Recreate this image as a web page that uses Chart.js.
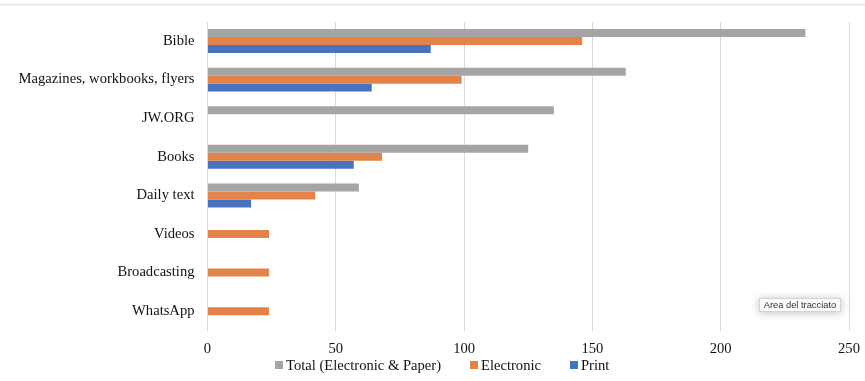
<!DOCTYPE html>
<html>
<head>
<meta charset="utf-8">
<script src="https://cdn.jsdelivr.net/npm/chart.js@4.4.1/dist/chart.umd.min.js"></script>
<style>
  html, body { margin: 0; padding: 0; background: #fff; }
  #wrap { position: relative; width: 865px; height: 381px; overflow: hidden; }
  #chart { display: block; }
  #legend {
    position: absolute; left: 275px; top: 356px;
    display: flex; align-items: center; white-space: nowrap;
    font-family: "Liberation Serif", "Times New Roman", serif;
    font-size: 14.6px; line-height: 18px; color: #111;
  }
  #legend .item { display: flex; align-items: center; margin-right: 29px; }
  #legend .swatch { width: 8px; height: 8px; margin-right: 3px; }
  #hint {
    position: absolute; left: 759px; top: 298px; width: 82px; height: 14px;
    box-sizing: border-box; border: 1px solid #d4d4d4; background: #fbfbfb;
    box-shadow: 0 1px 8px rgba(0,0,0,0.25);
    font-family: "Liberation Sans", Arial, sans-serif; font-size: 9.3px;
    line-height: 12px; color: #333; text-align: center;
  }
</style>
</head>
<body>
<div id="wrap">
  <canvas id="chart" width="865" height="381"></canvas>
  <div id="legend"></div>
  <div id="hint">Area del tracciato</div>
</div>
<script>
// Sources of reading material, counted by format
const categories = ['Bible', 'Magazines, workbooks, flyers', 'JW.ORG', 'Books', 'Daily text', 'Videos', 'Broadcasting', 'WhatsApp'];
const totalValues = [233, 163, 135, 125, 59, null, null, null];
const electronicValues = [146, 99, null, 68, 42, 24, 24, 24];
const printValues = [87, 64, null, 57, 17, null, null, null];
const seriesNames = ['Total (Electronic & Paper)', 'Electronic', 'Print'];
const xTicks = [0, 50, 100, 150, 200, 250];

const colors = ['#a5a5a5', '#e3834a', '#4a73bf'];
const serif = '"Liberation Serif", "Times New Roman", serif';

// thin rule along the top edge of the chart frame
const topRule = {
  id: 'topRule',
  beforeDraw(chart) {
    const ctx = chart.ctx;
    ctx.save();
    ctx.strokeStyle = '#e4e4e4';
    ctx.lineWidth = 1.5;
    ctx.beginPath();
    ctx.moveTo(0, 4.5);
    ctx.lineTo(chart.width, 4.5);
    ctx.stroke();
    ctx.restore();
  }
};

const seriesValues = [totalValues, electronicValues, printValues];

new Chart(document.getElementById('chart'), {
  type: 'bar',
  data: {
    labels: categories,
    datasets: seriesNames.map((name, i) => ({
      label: name,
      data: seriesValues[i],
      backgroundColor: colors[i],
      borderWidth: 0,
      categoryPercentage: 0.62,
      barPercentage: 1.0
    }))
  },
  options: {
    indexAxis: 'y',
    responsive: false,
    animation: false,
    devicePixelRatio: 1,
    layout: { padding: { top: 20, right: 16, bottom: 0, left: 0 } },
    plugins: {
      legend: { display: false },
      tooltip: { enabled: false }
    },
    scales: {
      x: {
        min: 0,
        max: 250,
        afterBuildTicks(scale) { scale.ticks = xTicks.map(v => ({ value: v })); },
        afterFit(scale) {
          scale.height = 50.5;
          scale.paddingLeft = 0;
          scale.paddingRight = 0;
        },
        grid: { color: '#d9d9d9', lineWidth: 1, drawTicks: false },
        border: { display: false },
        ticks: {
          padding: 10,
          color: '#111',
          font: { family: serif, size: 14.6 }
        }
      },
      y: {
        afterFit(scale) { scale.width = 207.5; },
        grid: { display: false, drawTicks: false },
        border: { display: false },
        ticks: {
          padding: 13,
          color: '#111',
          font: { family: serif, size: 14.6 }
        }
      }
    }
  },
  plugins: [topRule]
});

// legend row below the axis
const legendEl = document.getElementById('legend');
seriesNames.forEach((name, i) => {
  const item = document.createElement('span');
  item.className = 'item';
  const sw = document.createElement('span');
  sw.className = 'swatch';
  sw.style.background = colors[i];
  const txt = document.createElement('span');
  txt.textContent = name;
  item.appendChild(sw);
  item.appendChild(txt);
  legendEl.appendChild(item);
});
</script>
</body>
</html>
